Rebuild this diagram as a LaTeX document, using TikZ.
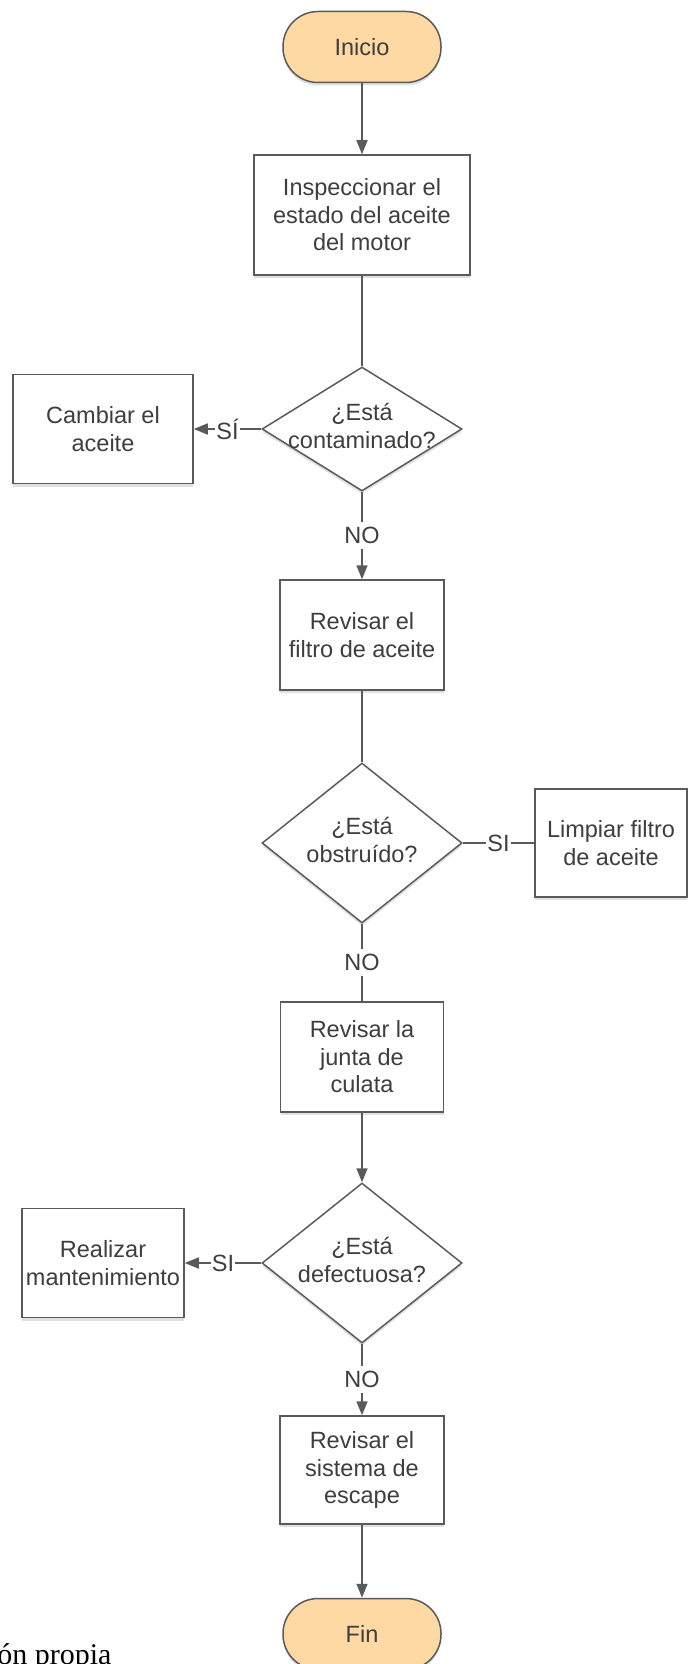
\documentclass[tikz,border=0pt]{standalone}
\usepackage{fontspec}
\setmainfont{Liberation Sans}
\newfontfamily\serifnote{Liberation Serif}
\definecolor{fcText}{HTML}{3E3E3E}
\definecolor{fcLine}{HTML}{5A5A5A}
\definecolor{fcPeach}{HTML}{FFD9A4}
\usetikzlibrary{arrows.meta,shapes.geometric,shadows}
\newcommand{\asktext}[1]{\makebox[0pt]{\begin{tabular}{@{}c@{}}#1\end{tabular}}}

\begin{document}
\begin{tikzpicture}[x=1pt, y=-1pt,
  every node/.style={text=fcText, font=\fontsize{23.5}{27.5}\selectfont},
  boxshadow/.style={drop shadow={shadow xshift=0pt, shadow yshift=-3pt, opacity=0.12, fill=black}},
  terminal/.style={rounded corners=35pt, draw=fcLine, line width=1.5pt, fill=fcPeach,
    minimum width=158pt, minimum height=71pt, boxshadow},
  stepbox/.style={draw=fcLine, line width=1.5pt, fill=white, align=center, inner sep=2pt, boxshadow},
  ask/.style={diamond, draw=fcLine, line width=1.5pt, fill=white, inner sep=0pt, boxshadow},
  flow/.style={draw=fcLine, line width=1.6pt},
  arr/.style={flow, -{Triangle[length=14pt, width=11pt]}},
  tag/.style={fill=white, inner xsep=1pt, inner ysep=5pt}
]
  \useasboundingbox (0,0) rectangle (688,1664);

  \node[terminal] (inicio) at (362,47) {Inicio};
  \node[stepbox, minimum width=216pt, minimum height=120pt] (inspeccion) at (362,215) {Inspeccionar el\\estado del aceite\\del motor};
  \node[ask, minimum width=200pt, minimum height=124pt] (contaminado) at (362,429) {\asktext{¿Está\\contaminado?}};
  \node[stepbox, minimum width=180pt, minimum height=109pt] (cambiar) at (103,429) {Cambiar el\\aceite};
  \node[stepbox, minimum width=164pt, minimum height=110pt] (filtro) at (362,635) {Revisar el\\filtro de aceite};
  \node[ask, minimum width=200pt, minimum height=160pt] (obstruido) at (362,843) {\asktext{¿Está\\obstruído?}};
  \node[stepbox, minimum width=152pt, minimum height=108pt] (limpiar) at (611,843) {Limpiar filtro\\de aceite};
  \node[stepbox, minimum width=163pt, minimum height=110pt] (junta) at (362,1057) {Revisar la\\junta de\\culata};
  \node[ask, minimum width=200pt, minimum height=160pt] (defectuosa) at (362,1263) {\asktext{¿Está\\defectuosa?}};
  \node[stepbox, minimum width=162pt, minimum height=109pt] (mantenimiento) at (103,1263) {Realizar\\mantenimiento};
  \node[stepbox, minimum width=164pt, minimum height=108pt] (escape) at (362,1470) {Revisar el\\sistema de\\escape};
  \node[terminal] (fin) at (362,1634) {Fin};

  \draw[arr] (inicio) -- (inspeccion);
  \draw[flow] (inspeccion) -- (contaminado);
  \draw[arr] (contaminado) -- node[tag] {SÍ} (cambiar);
  \draw[arr] (contaminado) -- node[tag] {NO} (filtro);
  \draw[flow] (filtro) -- (obstruido);
  \draw[flow] (obstruido) -- node[tag] {SI} (limpiar);
  \draw[flow] (obstruido) -- node[tag] {NO} (junta);
  \draw[arr] (junta) -- (defectuosa);
  \draw[arr] (defectuosa) -- node[tag] {SI} (mantenimiento);
  \draw[arr] (defectuosa) -- node[tag] {NO} (escape);
  \draw[arr] (escape) -- (fin);

  % source note, cut at the page edge
  \node[anchor=base east, font=\serifnote\fontsize{30}{32}\selectfont, text=black] (fuente) at (115,1664) {ón propia};
\end{tikzpicture}
\end{document}
